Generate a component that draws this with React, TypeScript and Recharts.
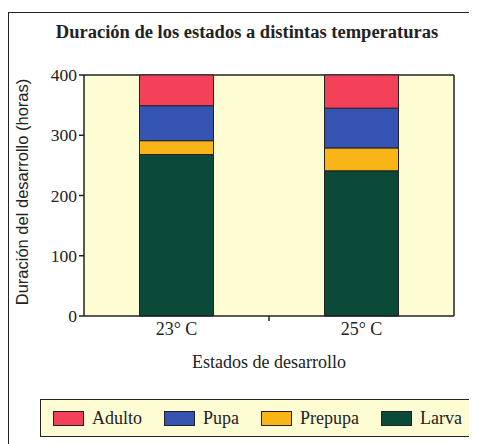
import React from 'react';
import {
  BarChart,
  Bar,
  XAxis,
  YAxis,
  CartesianGrid,
} from 'recharts';

const categories = ['23° C', '25° C'];
const larva = [268, 241];
const prepupa = [23, 38];
const pupa = [58, 66];
const adulto = [51, 55];
const yTicks = [0, 100, 200, 300, 400];

const series = [
  { key: 'larva', name: 'Larva', color: '#0b4a38' },
  { key: 'prepupa', name: 'Prepupa', color: '#f9b418' },
  { key: 'pupa', name: 'Pupa', color: '#3553b0' },
  { key: 'adulto', name: 'Adulto', color: '#f4415a' },
];

const data = categories.map((cat, i) => ({
  cat,
  larva: larva[i],
  prepupa: prepupa[i],
  pupa: pupa[i],
  adulto: adulto[i],
}));

const serif = '"Liberation Serif", "Times New Roman", serif';
const ink = '#222';

// category tick: label plus a small tick mark on the band boundary
const CatTick = (props: any) => {
  const { x, y, payload, index, visibleTicksCount } = props;
  const off = payload.offset || 0;
  const axisY = y - 8;
  return (
    <g>
      {index < visibleTicksCount - 1 && (
        <line x1={x + off} x2={x + off} y1={axisY} y2={axisY + 5} stroke={ink} strokeWidth={1.5} />
      )}
      <text x={x} y={y} dy={11} textAnchor="middle" fill={ink} fontFamily={serif} fontSize={18}>
        {payload.value}
      </text>
    </g>
  );
};

const LegendBox = () => (
  <div
    style={{
      position: 'absolute',
      left: 32,
      top: 391,
      width: 431,
      height: 38,
      border: `1.5px solid ${ink}`,
      background: '#fdfcd2',
      display: 'flex',
      alignItems: 'center',
      justifyContent: 'space-between',
      padding: '0 8px 0 12px',
      boxSizing: 'border-box',
      fontFamily: serif,
      fontSize: 18,
      color: ink,
    }}
  >
    {[...series].reverse().map((s) => (
      <div key={s.key} style={{ display: 'flex', alignItems: 'center' }}>
        <span
          style={{
            display: 'inline-block',
            width: 29,
            height: 13,
            background: s.color,
            border: `1px solid ${ink}`,
            marginRight: 8,
          }}
        />
        {s.name}
      </div>
    ))}
  </div>
);

export default function App() {
  return (
    <div style={{ position: 'relative', width: 469, height: 436, overflow: 'hidden', background: '#fff' }}>
      {/* outer frame, only top and left edges visible */}
      <div
        style={{
          position: 'absolute',
          left: 0,
          top: 4,
          width: 500,
          height: 500,
          borderLeft: `1.5px solid ${ink}`,
          borderTop: `1.5px solid ${ink}`,
        }}
      />
      <div
        style={{
          position: 'absolute',
          left: 0,
          top: 14,
          width: 478,
          textAlign: 'center',
          fontFamily: serif,
          fontWeight: 'bold',
          fontSize: 18.5,
          color: ink,
        }}
      >
        Duración de los estados a distintas temperaturas
      </div>
      <div
        style={{
          position: 'absolute',
          left: 14,
          top: 184,
          transform: 'translate(-50%, -50%) rotate(-90deg)',
          whiteSpace: 'nowrap',
          fontFamily: '"Liberation Sans", Arial, sans-serif',
          fontSize: 16.5,
          color: ink,
        }}
      >
        Duración del desarrollo (horas)
      </div>
      <div style={{ position: 'absolute', left: 0, top: 0 }}>
        <BarChart
          width={469}
          height={436}
          data={data}
          margin={{ top: 67, right: 23, bottom: 76, left: 0 }}
          barCategoryGap="30%"
        >
          <CartesianGrid
            fill="#fdfcd2"
            fillOpacity={1}
            stroke={ink}
            strokeWidth={1.5}
            horizontalCoordinatesGenerator={({ offset }: any) => [offset.top]}
            verticalCoordinatesGenerator={({ offset }: any) => [offset.left + offset.width]}
          />
          <XAxis
            dataKey="cat"
            tickLine={false}
            axisLine={{ stroke: ink, strokeWidth: 1.5 }}
            tick={<CatTick />}
            height={52}
            label={{
              value: 'Estados de desarrollo',
              position: 'insideBottom',
              offset: 0,
              fill: ink,
              fontFamily: serif,
              fontSize: 18,
            }}
          />
          <YAxis
            domain={[0, 400]}
            ticks={yTicks}
            width={76}
            tickSize={5}
            tickLine={{ stroke: ink, strokeWidth: 1.5 }}
            axisLine={{ stroke: ink, strokeWidth: 1.5 }}
            tick={{ fill: ink, fontFamily: serif, fontSize: 17.5 }}
            tickMargin={2}
            interval={0}
          />
          {series.map((s) => (
            <Bar
              key={s.key}
              dataKey={s.key}
              name={s.name}
              stackId="a"
              fill={s.color}
              stroke={ink}
              strokeWidth={1}
              isAnimationActive={false}
            />
          ))}
        </BarChart>
      </div>
      <LegendBox />
    </div>
  );
}
